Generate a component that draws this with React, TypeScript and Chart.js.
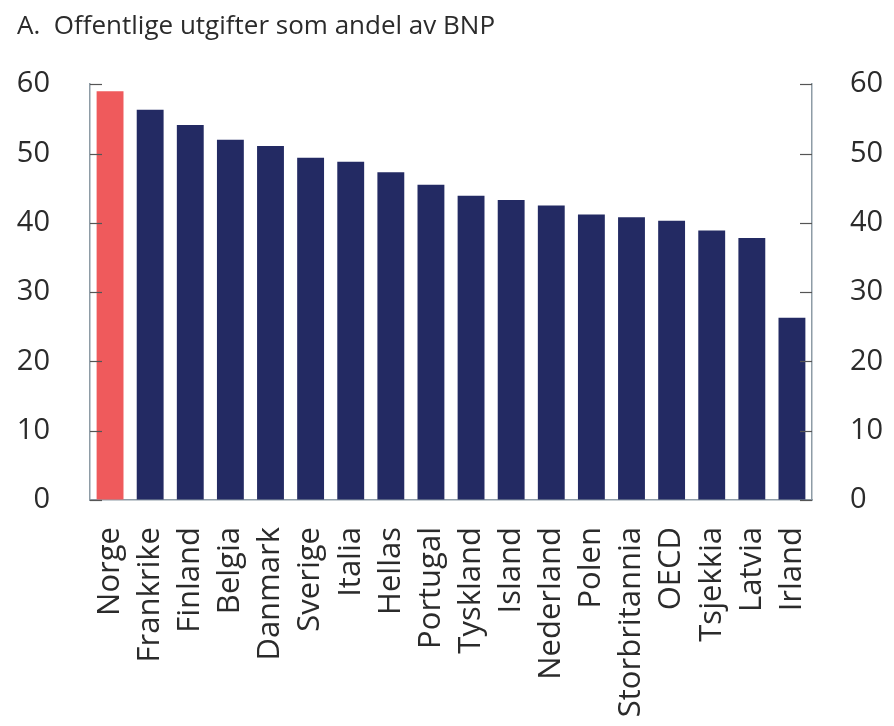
import React, { useEffect, useRef } from "react";
import { Chart, registerables } from "chart.js";

Chart.register(...registerables);

const countries = [
  "Norge", "Frankrike", "Finland", "Belgia", "Danmark", "Sverige", "Italia", "Hellas",
  "Portugal", "Tyskland", "Island", "Nederland", "Polen", "Storbritannia", "OECD",
  "Tsjekkia", "Latvia", "Irland",
];
const spending = [
  59.0, 56.3, 54.1, 52.0, 51.1, 49.4, 48.8, 47.3, 45.5, 43.9, 43.3, 42.5, 41.2, 40.8,
  40.3, 38.9, 37.8, 26.3,
];
const highlight = ["Norge"];
const yTicks = [0, 10, 20, 30, 40, 50, 60];
const titleText = "A.  Offentlige utgifter som andel av BNP";

const RED = "#ef5a5c";
const NAVY = "#232a63";
const AXIS = "#8e9ca6";
const TEXT = "#2b2b2b";
const FONT = "'Open Sans', 'Noto Sans', sans-serif";

const innerTicks = {
  id: "innerTicks",
  afterDraw(chart: any) {
    const ctx = chart.ctx;
    const area = chart.chartArea;
    ctx.save();
    ctx.strokeStyle = "#555";
    ctx.lineWidth = 1.2;
    for (const id of ["y", "y2"]) {
      const s = chart.scales[id];
      for (const v of yTicks) {
        const py = Math.round(s.getPixelForValue(v)) + 0.5;
        ctx.beginPath();
        if (id === "y") {
          ctx.moveTo(area.left, py);
          ctx.lineTo(area.left + 12, py);
        } else {
          ctx.moveTo(area.right - 12, py);
          ctx.lineTo(area.right, py);
        }
        ctx.stroke();
      }
    }
    ctx.restore();
  },
};

export default function App() {
  const ref = useRef<HTMLCanvasElement | null>(null);

  useEffect(() => {
    if (!ref.current) return;
    const yCommon = (position: string, padding: number, width: number) => ({
      type: "linear",
      position,
      min: 0,
      max: 60,
      afterBuildTicks(scale: any) {
        scale.ticks = yTicks.map((v) => ({ value: v }));
      },
      afterFit(scale: any) {
        scale.width = width;
      },
      grid: { display: true, drawOnChartArea: false, drawTicks: false },
      border: { display: true, color: AXIS, width: 1.5 },
      ticks: {
        padding,
        color: TEXT,
        font: { family: FONT, size: 29 },
      },
    });
    const chart = new Chart(ref.current, {
      type: "bar",
      data: {
        labels: countries,
        datasets: [
          {
            data: spending,
            backgroundColor: countries.map((c) => (highlight.includes(c) ? RED : NAVY)),
            borderWidth: 0,
            categoryPercentage: 1,
            barPercentage: 0.67,
          },
        ],
      },
      options: {
        animation: false,
        responsive: false,
        maintainAspectRatio: false,
        layout: { padding: { left: 17, right: 0, top: 0, bottom: 0 } },
        plugins: {
          legend: { display: false },
          tooltip: { enabled: false },
          title: {
            display: true,
            text: titleText,
            align: "start",
            color: TEXT,
            font: { family: FONT, size: 26, weight: "normal" },
            padding: { top: 11, bottom: 42 },
          },
        },
        scales: {
          x: {
            type: "category",
            afterFit(scale: any) {
              scale.height = 226;
            },
            grid: { display: false, drawTicks: false },
            border: { display: true, color: AXIS, width: 1.5 },
            ticks: {
              autoSkip: false,
              maxRotation: 90,
              minRotation: 90,
              padding: 27,
              color: TEXT,
              font: { family: FONT, size: 31 },
            },
          },
          y: yCommon("left", 40, 73) as any,
          y2: yCommon("right", 38, 82) as any,
        },
      },
      plugins: [innerTicks],
    } as any);
    return () => chart.destroy();
  }, []);

  return (
    <div style={{ position: "absolute", left: 0, top: 0, width: 894, height: 726 }}>
      <canvas ref={ref} width={894} height={726} style={{ width: 894, height: 726 }} />
    </div>
  );
}
